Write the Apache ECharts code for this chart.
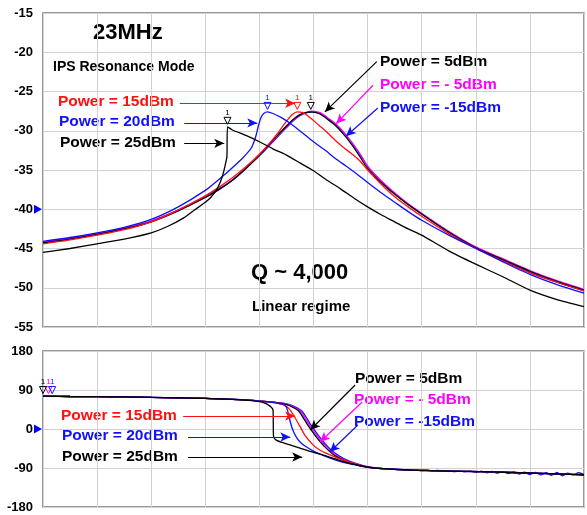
<!DOCTYPE html>
<html lang="en">
  <head>
    <meta charset="UTF-8" />
    <title>23MHz IPS Resonance Mode</title>
    <style>
      html, body { margin: 0; padding: 0; background: #fff; }
    </style>
  </head>
  <body>
    <div id="main" style="width: 587px; height: 515px"></div>

    <script src="https://cdn.jsdelivr.net/npm/echarts@6/dist/echarts.min.js"></script>
    <script>
      // magnitude (dB) vs frequency, x in grid divisions 0..10
      var magP5 = [[0,-44.3],[0.5,-43.8],[1,-43.2],[1.5,-42.5],[2,-41.6],[2.5,-40.2],[3,-38.5],[3.25,-37.5],[3.5,-36.3],[3.75,-34.8],[4,-33.1],[4.25,-31.2],[4.5,-29.4],[4.65,-28.4],[4.8,-27.8],[4.95,-27.6],[5.1,-27.8],[5.25,-28.5],[5.4,-29.3],[5.55,-30.4],[5.7,-31.7],[5.85,-33.2],[6,-34.8],[6.25,-36.6],[6.5,-38.1],[6.75,-39.4],[7,-40.6],[7.5,-42.9],[8,-44.9],[8.5,-46.4],[9,-47.9],[9.5,-49.2],[10,-50.3]];
      var magM5 = [[0,-44.2],[0.5,-43.7],[1,-43.1],[1.5,-42.4],[2,-41.5],[2.5,-40.1],[3,-38.5],[3.25,-37.5],[3.5,-36.3],[3.75,-34.8],[4,-33.1],[4.25,-31.3],[4.5,-29.5],[4.67,-28.4],[4.82,-27.8],[4.97,-27.5],[5.12,-27.7],[5.27,-28.4],[5.42,-29.2],[5.57,-30.3],[5.72,-31.6],[5.87,-33.1],[6.02,-34.7],[6.27,-36.5],[6.5,-37.9],[6.75,-39.3],[7,-40.5],[7.5,-42.8],[8,-44.8],[8.5,-46.3],[9,-47.8],[9.5,-49.1],[10,-50.2]];
      var magM15 = [[0,-44.2],[0.5,-43.7],[1,-43.1],[1.5,-42.4],[2,-41.5],[2.5,-40.1],[3,-38.4],[3.25,-37.4],[3.5,-36.3],[3.75,-34.8],[4,-33.2],[4.25,-31.4],[4.5,-29.6],[4.68,-28.4],[4.83,-27.8],[4.98,-27.6],[5.13,-27.8],[5.28,-28.5],[5.43,-29.3],[5.58,-30.4],[5.73,-31.7],[5.88,-33.2],[6.03,-34.8],[6.28,-36.6],[6.5,-38.0],[6.75,-39.4],[7,-40.6],[7.5,-42.9],[8,-44.9],[8.5,-46.5],[9,-48.0],[9.5,-49.3],[10,-50.4]];
      var magP15 = [[0,-44.4],[0.5,-43.9],[1,-43.3],[1.5,-42.6],[2,-41.6],[2.5,-40.1],[3,-38.3],[3.25,-37.2],[3.5,-36.0],[3.75,-34.6],[4,-33.0],[4.2,-31.5],[4.35,-30.2],[4.5,-28.8],[4.6,-28.0],[4.7,-27.6],[4.8,-27.7],[4.95,-28.4],[5.1,-29.3],[5.25,-30.2],[5.4,-31.2],[5.55,-32.1],[5.7,-32.9],[5.85,-33.8],[6,-35.0],[6.25,-36.8],[6.5,-38.4],[6.75,-39.7],[7,-40.9],[7.5,-43.1],[8,-45.0],[8.5,-46.6],[9,-48.1],[9.5,-49.3],[10,-50.4]];
      var magP20 = [[0,-44.1],[0.5,-43.6],[1,-43.0],[1.5,-42.3],[2,-41.3],[2.5,-39.7],[3,-37.6],[3.25,-36.2],[3.5,-34.7],[3.7,-33.4],[3.85,-32.2],[3.93,-30.8],[3.98,-29.4],[4.03,-28.3],[4.08,-27.8],[4.15,-27.6],[4.25,-27.8],[4.4,-28.3],[4.6,-29.2],[4.8,-30.3],[5,-31.4],[5.2,-32.4],[5.4,-33.5],[5.6,-34.5],[5.8,-35.5],[6,-36.6],[6.25,-37.9],[6.5,-39.1],[6.75,-40.3],[7,-41.4],[7.5,-43.3],[8,-45.0],[8.5,-46.7],[9,-48.3],[9.5,-49.6],[10,-50.7]];
      var magP25 = [[0,-45.5],[0.5,-45.0],[1,-44.4],[1.5,-43.8],[2,-43.0],[2.3,-42.2],[2.6,-41.1],[2.8,-40.1],[3,-39.1],[3.1,-38.5],[3.2,-37.6],[3.28,-36.5],[3.34,-35.2],[3.38,-34.0],[3.4,-33.3],[3.41,-29.5],[3.5,-29.9],[3.75,-30.6],[4,-31.4],[4.25,-32.3],[4.5,-33.1],[4.75,-34.1],[5,-35.1],[5.25,-36.3],[5.5,-37.4],[5.75,-38.6],[6,-39.7],[6.25,-40.7],[6.5,-41.6],[6.75,-42.5],[7,-43.3],[7.5,-45.3],[8,-47.0],[8.5,-48.6],[9,-50.3],[9.5,-51.5],[10,-52.4]];

      // phase (deg) vs frequency
      var phP5 = [[0,76],[0.5,75],[1,74.5],[1.5,74],[2,73],[2.5,72],[3,70.5],[3.5,68.5],[3.8,66.5],[4,64.5],[4.2,62.5],[4.35,60],[4.5,56],[4.62,50],[4.72,42],[4.8,28],[4.88,12],[4.95,-1],[5.02,-13],[5.1,-26],[5.2,-40],[5.3,-52],[5.4,-62],[5.55,-72],[5.7,-79.5],[5.85,-85],[6,-88.5],[6.2,-91],[6.5,-93],[6.84,-95],[7.5,-97],[8.08,-98.5],[8.8,-101],[9.61,-104],[10,-106]];
      var phM5 = [[0,76],[0.5,75],[1,74.5],[1.5,74],[2,73],[2.5,72],[3,70.5],[3.5,68.5],[3.8,66.5],[4,64.5],[4.2,62.5],[4.38,60],[4.53,56],[4.65,50],[4.75,42],[4.83,28],[4.91,12],[4.98,-1],[5.05,-13],[5.13,-26],[5.23,-40],[5.33,-52],[5.43,-62],[5.58,-72],[5.73,-79.5],[5.88,-85],[6.03,-88.5],[6.2,-91],[6.5,-93],[6.84,-95],[7.5,-97],[8.08,-98.5],[8.8,-101],[9.61,-104],[10,-106]];
      var phM15 = [[0,76],[0.5,75],[1,74.5],[1.5,74],[2,73],[2.5,72],[3,70.5],[3.5,68.5],[3.8,66.5],[4,64.5],[4.2,62.5],[4.4,60],[4.56,56],[4.68,50],[4.78,42],[4.86,28],[4.94,12],[5.01,-1],[5.08,-13],[5.16,-26],[5.26,-40],[5.36,-52],[5.47,-62],[5.62,-72],[5.78,-79.5],[5.93,-85],[6.08,-88.5],[6.3,-91.5],[6.6,-93.5],[6.8,-95],[6.9,-94],[7,-96.5],[7.1,-95],[7.2,-97],[7.3,-95.5],[7.4,-97.5],[7.5,-96],[7.6,-98.5],[7.7,-96.5],[7.8,-99],[7.9,-97],[8,-100],[8.1,-97.5],[8.2,-101],[8.3,-98],[8.4,-102],[8.5,-98.5],[8.6,-103],[8.7,-99],[8.8,-104],[8.9,-99.5],[9,-105],[9.1,-100],[9.2,-106],[9.3,-101],[9.4,-107],[9.5,-100],[9.6,-108],[9.7,-102],[9.8,-106],[9.9,-101],[10,-105]];
      var phP15 = [[0,76],[0.5,75],[1,74.5],[1.5,74],[2,73],[2.5,72],[3,70.5],[3.5,68.5],[3.8,66.5],[4,64.5],[4.2,62],[4.35,59],[4.45,55.5],[4.53,49],[4.6,38],[4.66,26],[4.75,6],[4.85,-16],[4.95,-31],[5.06,-44],[5.2,-54],[5.37,-63],[5.55,-72],[5.74,-79],[5.95,-86],[6.2,-90.5],[6.5,-93],[6.84,-95],[7.5,-97],[8.08,-98.5],[8.8,-101],[9.61,-104],[10,-106]];
      var phP20 = [[0,76],[0.5,75],[1,74.5],[1.5,74],[2,73],[2.5,72],[3,70.5],[3.5,68.5],[3.8,66.5],[4,64.5],[4.2,62],[4.35,59],[4.44,56.5],[4.49,52],[4.52,43],[4.55,28],[4.58,12],[4.62,-3],[4.68,-18],[4.75,-30],[4.85,-40],[5,-51],[5.2,-62],[5.37,-70],[5.55,-77],[5.74,-82],[5.95,-87],[6.2,-91],[6.5,-93],[6.84,-95],[7.5,-97],[8.08,-98.5],[8.8,-101],[9.61,-104],[10,-106]];
      var phP25 = [[0,76],[0.5,75],[1,74.5],[1.5,74],[2,73],[2.5,72],[3,70.5],[3.5,68.5],[3.8,66],[4,63],[4.1,59.5],[4.17,55],[4.22,50],[4.25,45],[4.255,30],[4.26,-15],[4.28,-22],[4.33,-27],[4.42,-31],[4.55,-36],[4.75,-44],[5,-54],[5.2,-61],[5.4,-69],[5.6,-77],[5.8,-83],[6,-88],[6.2,-91],[6.5,-93],[6.84,-95],[7.5,-97],[8.08,-98.5],[8.8,-101],[9.61,-104],[10,-106]];

      var magTicks = [-55, -15, 5];   // min, max, step
      var phTicks = [-180, 180, 90];

      var RED = "#ff1010", BLUE = "#1010ff", MAG = "#ff00ff", BLK = "#000000";
      var FONT = "Liberation Sans, Arial, sans-serif";

      var myChart = echarts.init(document.getElementById("main"), null, { renderer: "canvas" });

      function peakMark(coord, color) {
        return {
          symbol: "triangle",
          symbolRotate: 180,
          symbolSize: [7, 7],
          symbolOffset: [0, -6],
          itemStyle: { color: "rgba(0,0,0,0)", borderColor: color, borderWidth: 1 },
          label: { show: true, formatter: "1", position: "top", distance: 0, fontSize: 8, color: color, fontFamily: FONT },
          data: [{ coord: coord }],
        };
      }

      function arrows(list, color) {
        return {
          silent: true,
          symbol: ["none", "arrow"],
          symbolSize: [7, 10],
          label: { show: false },
          lineStyle: { color: color, width: 1.2, type: "solid" },
          data: list.map(function (a) {
            return [{ coord: a[0] }, { coord: a[1] }];
          }),
        };
      }

      function line(name, data, color, xi, extra) {
        var s = {
          name: name,
          type: "line",
          xAxisIndex: xi,
          yAxisIndex: xi,
          data: data,
          showSymbol: false,
          smooth: 0.4,
          lineStyle: { color: color, width: 1.3 },
          itemStyle: { color: color },
          animation: false,
        };
        return Object.assign(s, extra || {});
      }

      var triangleLeft = function (coord) {
        return {
          symbol: "triangle",
          symbolRotate: -90,
          symbolSize: [9, 8],
          symbolOffset: [-5, 0],
          itemStyle: { color: "#0000ff" },
          label: { show: false },
          data: [{ coord: coord }],
        };
      };

      var axisLabelStyle = { color: "#000", fontWeight: "bold", fontSize: 13, fontFamily: FONT, margin: 10 };
      var splitStyle = { show: true, lineStyle: { color: "#d2d2d2", width: 1 } };
      var labelFont = "bold 15.5px " + FONT;

      var option = {
        backgroundColor: "#fff",
        grid: [
          { left: 43, top: 13, width: 541, height: 314, show: true, borderColor: "#777", borderWidth: 1.5 },
          { left: 43, top: 351, width: 541, height: 156, show: true, borderColor: "#777", borderWidth: 1.5 },
        ],
        xAxis: [0, 1].map(function (i) {
          return {
            type: "value", gridIndex: i, min: 0, max: 10, interval: 1,
            axisLabel: { show: false }, axisTick: { show: false }, axisLine: { show: false },
            splitLine: splitStyle,
          };
        }),
        yAxis: [
          {
            type: "value", gridIndex: 0, min: magTicks[0], max: magTicks[1], interval: magTicks[2],
            axisLabel: axisLabelStyle, axisTick: { show: false }, axisLine: { show: false }, splitLine: splitStyle,
          },
          {
            type: "value", gridIndex: 1, min: phTicks[0], max: phTicks[1], interval: phTicks[2],
            axisLabel: axisLabelStyle, axisTick: { show: false }, axisLine: { show: false }, splitLine: splitStyle,
          },
        ],
        series: [
          // top: magnitude
          line("-15dBm", magM15, BLUE, 0, { markPoint: triangleLeft([0, -40]) }),
          line("-5dBm", magM5, MAG, 0, {
            markLine: arrows([[[6.10, -24.2], [5.42, -29.1]]], MAG),
          }),
          line("5dBm", magP5, BLK, 0, {
            markPoint: peakMark([4.95, -27.6], BLK),
            markLine: arrows([[[6.17, -21.2], [5.21, -27.6]]], BLK),
          }),
          line("15dBm", magP15, RED, 0, {
            markPoint: peakMark([4.7, -27.6], RED),
            markLine: arrows([[[2.53, -26.5], [4.66, -26.5]]], RED),
          }),
          line("20dBm", magP20, BLUE, 0, {
            smooth: 0.25,
            markPoint: peakMark([4.15, -27.6], BLUE),
            markLine: arrows([[[2.61, -29.0], [3.96, -29.0]], [[6.19, -27.1], [5.6, -30.7]]], BLUE),
          }),
          line("25dBm", magP25, BLK, 0, {
            smooth: 0.2,
            markPoint: peakMark([3.41, -29.5], BLK),
            markLine: arrows([[[2.61, -31.6], [3.35, -31.6]]], BLK),
          }),
          // bottom: phase
          line("-15dBm", phM15, BLUE, 1, {
            smooth: 0.2,
            markPoint: triangleLeft([0, 0]),
            markLine: arrows([[[5.82, 9.2], [5.3, -53]], [[2.68, -18.5], [4.57, -18.5]]], BLUE),
          }),
          line("-5dBm", phM5, MAG, 1, {
            markPoint: peakMark([0.1, 76], MAG),
            markLine: arrows([[[5.9, 62.3], [5.12, -30]]], MAG),
          }),
          line("5dBm", phP5, BLK, 1, {
            markPoint: peakMark([0.0, 76], BLK),
            markLine: arrows([[[5.77, 101.5], [4.94, -2.3]]], BLK),
          }),
          line("15dBm", phP15, RED, 1, {
            markLine: arrows([[[2.59, 30], [4.66, 30]]], RED),
          }),
          line("20dBm", phP20, BLUE, 1, {
            smooth: 0.25,
            markPoint: peakMark([0.17, 76], BLUE),
          }),
          line("25dBm", phP25, BLK, 1, {
            smooth: 0.2,
            markLine: arrows([[[2.68, -64.6], [4.79, -64.6]]], BLK),
          }),
        ],
        graphic: [
          { type: "text", left: 93, top: 22, style: { text: "23MHz", fill: "#000", font: "bold 22px " + FONT } },
          { type: "text", left: 53, top: 60, style: { text: "IPS Resonance Mode", fill: "#000", font: "bold 14px " + FONT } },
          { type: "text", left: 58, top: 94, style: { text: "Power = 15dBm", fill: RED, font: labelFont } },
          { type: "text", left: 59, top: 114, style: { text: "Power = 20dBm", fill: BLUE, font: labelFont } },
          { type: "text", left: 60, top: 135, style: { text: "Power = 25dBm", fill: BLK, font: labelFont } },
          { type: "text", left: 380, top: 54, style: { text: "Power = 5dBm", fill: BLK, font: labelFont } },
          { type: "text", left: 380, top: 77, style: { text: "Power = - 5dBm", fill: MAG, font: labelFont } },
          { type: "text", left: 380, top: 100, style: { text: "Power = -15dBm", fill: BLUE, font: labelFont } },
          { type: "text", left: 251, top: 262, style: { text: "Q ~ 4,000", fill: "#000", font: "bold 22px " + FONT } },
          { type: "text", left: 252, top: 299, style: { text: "Linear regime", fill: "#000", font: "bold 15px " + FONT } },

          { type: "text", left: 61, top: 408, style: { text: "Power = 15dBm", fill: RED, font: labelFont } },
          { type: "text", left: 62, top: 428, style: { text: "Power = 20dBm", fill: BLUE, font: labelFont } },
          { type: "text", left: 62, top: 449, style: { text: "Power = 25dBm", fill: BLK, font: labelFont } },
          { type: "text", left: 355, top: 371, style: { text: "Power = 5dBm", fill: BLK, font: labelFont } },
          { type: "text", left: 354, top: 392, style: { text: "Power = - 5dBm", fill: MAG, font: labelFont } },
          { type: "text", left: 354, top: 414, style: { text: "Power = -15dBm", fill: BLUE, font: labelFont } },
        ],
      };
      myChart.setOption(option);
    </script>
  </body>
</html>
